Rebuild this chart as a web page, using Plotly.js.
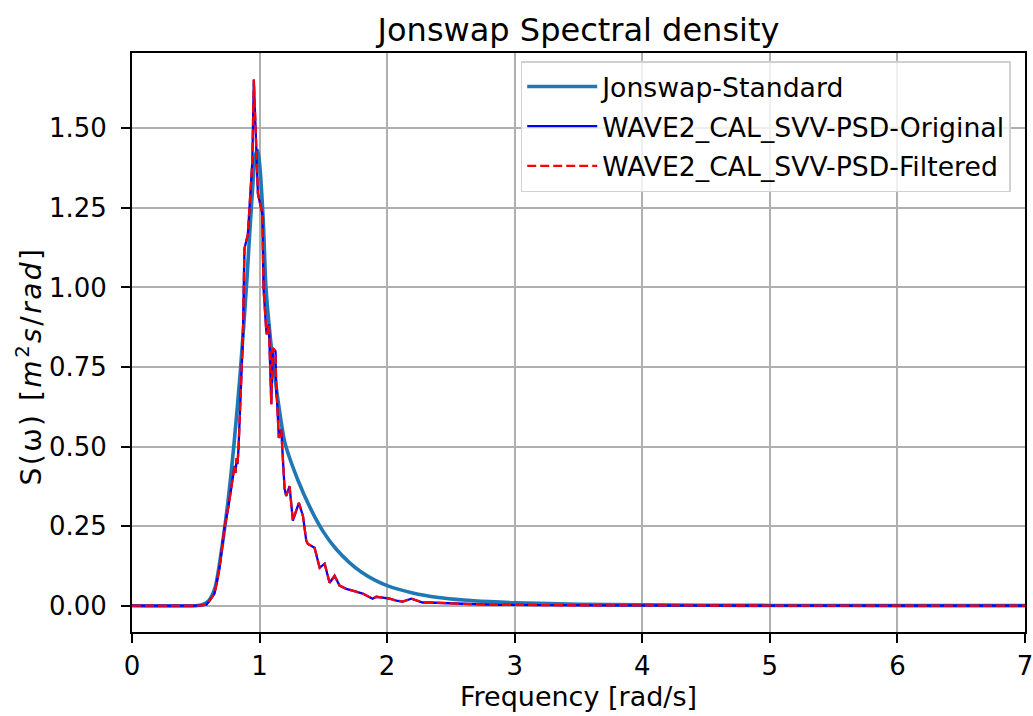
<!DOCTYPE html>
<html>
<head>
<meta charset="utf-8">
<script src="https://cdn.plot.ly/plotly-3.0.1.min.js"></script>
<style>
  html, body { margin: 0; padding: 0; background: #ffffff; }
  #chart { width: 1033px; height: 716px; }
</style>
</head>
<body>
<div id="chart"></div>
<script>
// Jonswap-Standard spectrum
const jonswapFreq = [0, 0.5, 0.55, 0.6, 0.65, 0.7, 0.75, 0.8, 0.85, 0.9, 0.94, 0.97, 0.985, 1.0, 1.03, 1.05, 1.09, 1.12, 1.15, 1.2, 1.3, 1.4, 1.5, 1.6, 1.7, 1.8, 1.9, 2.0, 2.2, 2.4, 2.6, 2.8, 3.0, 3.5, 4.0, 4.5, 5.0, 6.0, 7.0];
const jonswapS    = [0, 0, 0.003, 0.015, 0.055, 0.17, 0.32, 0.51, 0.74, 1.02, 1.28, 1.42, 1.43, 1.39, 1.2, 1.0, 0.82, 0.72, 0.63, 0.51, 0.395, 0.305, 0.232, 0.178, 0.137, 0.105, 0.081, 0.063, 0.04, 0.026, 0.018, 0.013, 0.0093, 0.0045, 0.0024, 0.0014, 0.0008, 0.0003, 0.00015];

const psdFreq = [0, 0.53, 0.584, 0.647, 0.686, 0.725, 0.757, 0.788, 0.804, 0.812, 0.820, 0.827, 0.835, 0.856, 0.869, 0.878, 0.882, 0.908, 0.929, 0.943, 0.955, 0.974, 0.987, 1.021, 1.026, 1.031, 1.053, 1.057, 1.073, 1.092, 1.104, 1.125, 1.131, 1.137, 1.151, 1.170, 1.178, 1.196, 1.209, 1.235, 1.261, 1.308, 1.340, 1.366, 1.379, 1.431, 1.471, 1.510, 1.549, 1.588, 1.627, 1.680, 1.75, 1.808, 1.886, 1.915, 2.02, 2.072, 2.122, 2.19, 2.278, 2.333, 2.592, 2.86, 3.5, 4.0, 5.0, 6.0, 7.0];
const psdOriginal = [0, 0, 0.003, 0.038, 0.12, 0.245, 0.314, 0.392, 0.439, 0.417, 0.464, 0.445, 0.495, 0.706, 0.840, 1.05, 1.123, 1.166, 1.323, 1.395, 1.653, 1.427, 1.295, 1.232, 1.12, 0.997, 0.862, 0.853, 0.884, 0.633, 0.809, 0.800, 0.674, 0.643, 0.527, 0.555, 0.495, 0.367, 0.345, 0.376, 0.267, 0.323, 0.282, 0.204, 0.194, 0.182, 0.119, 0.132, 0.072, 0.094, 0.063, 0.053, 0.045, 0.038, 0.022, 0.028, 0.022, 0.016, 0.013, 0.022, 0.010, 0.010, 0.006, 0.003, 0.001, 0.0005, 0.0002, 0.0001, 0];
const psdFiltered = [0, 0, 0.003, 0.038, 0.12, 0.245, 0.314, 0.392, 0.439, 0.417, 0.464, 0.445, 0.495, 0.706, 0.840, 1.05, 1.123, 1.166, 1.323, 1.395, 1.653, 1.427, 1.295, 1.232, 1.12, 0.997, 0.862, 0.853, 0.884, 0.633, 0.809, 0.800, 0.674, 0.643, 0.527, 0.555, 0.495, 0.367, 0.345, 0.376, 0.267, 0.323, 0.282, 0.204, 0.194, 0.182, 0.119, 0.132, 0.072, 0.094, 0.063, 0.053, 0.045, 0.038, 0.022, 0.028, 0.022, 0.016, 0.013, 0.022, 0.010, 0.010, 0.006, 0.003, 0.001, 0.0005, 0.0002, 0.0001, 0];

const seriesNames = ["Jonswap-Standard", "WAVE2_CAL_SVV-PSD-Original", "WAVE2_CAL_SVV-PSD-Filtered"];
const xTicks = [0, 1, 2, 3, 4, 5, 6, 7];
const yTicks = [0, 0.25, 0.5, 0.75, 1.0, 1.25, 1.5];
const yTickLabels = ["0.00", "0.25", "0.50", "0.75", "1.00", "1.25", "1.50"];

const FONT = "DejaVu Sans, sans-serif";

const traces = [
  { x: jonswapFreq, y: jonswapS, name: seriesNames[0], mode: "lines", legendgroup: "g1",
    line: { color: "#1f77b4", width: 3.6, shape: "spline", smoothing: 0.8 } },
  { x: psdFreq, y: psdOriginal, name: seriesNames[1], mode: "lines", legendgroup: "g2",
    line: { color: "#0000ff", width: 2.3 } },
  { x: psdFreq, y: psdFiltered, name: seriesNames[2], mode: "lines", legendgroup: "g3",
    line: { color: "#ff0000", width: 2.3, dash: "9px,4px" } }
];

const axisCommon = {
  showline: true, mirror: true, linecolor: "#000000", linewidth: 2,
  ticks: "outside", ticklen: 9, tickwidth: 2, tickcolor: "#000000",
  showgrid: true, gridcolor: "#b0b0b0", gridwidth: 2,
  zeroline: false, ticklabeloverflow: "allow",
  tickfont: { family: FONT, size: 26, color: "#000000" }
};

const layout = {
  width: 1033, height: 716,
  paper_bgcolor: "#ffffff", plot_bgcolor: "#ffffff",
  margin: { l: 132, r: 8, t: 53, b: 84 },
  font: { family: FONT, color: "#000000" },
  title: { text: "Jonswap Spectral density", font: { family: FONT, size: 32, color: "#000000" },
           x: 0.5, xref: "paper", xanchor: "center", y: 1, yref: "paper", yanchor: "bottom", pad: { b: 12 } },
  xaxis: Object.assign({}, axisCommon, {
    range: [0, 7], tickvals: xTicks, ticktext: xTicks.map(String), ticklabelstandoff: 1,
    title: { text: "Frequency [rad/s]", font: { family: FONT, size: 27, color: "#000000" }, standoff: 3 }
  }),
  yaxis: Object.assign({}, axisCommon, {
    range: [-0.0827, 1.7367], tickvals: yTicks, ticktext: yTickLabels, ticklabelstandoff: 9
  }),
  annotations: [{
    text: "<span style='letter-spacing:2.5px'>S(ω) [<i>m</i><sup>2</sup><i>s</i>/<i>rad</i>]</span>",
    xref: "paper", yref: "paper", x: -0.115, y: 0.459, xanchor: "center", yanchor: "middle",
    textangle: -90, showarrow: false,
    font: { family: FONT, size: 28, color: "#000000" }
  }],
  showlegend: true,
  legend: {
    x: 0.984, xanchor: "right", y: 0.986, yanchor: "top",
    bgcolor: "rgba(255,255,255,0.8)", bordercolor: "#d0d0d0", borderwidth: 1.5,
    font: { family: FONT, size: 26.7, color: "#000000" },
    itemwidth: 70, tracegroupgap: 2
  }
};

Plotly.newPlot("chart", traces, layout, { displayModeBar: false, staticPlot: true });
</script>
</body>
</html>
